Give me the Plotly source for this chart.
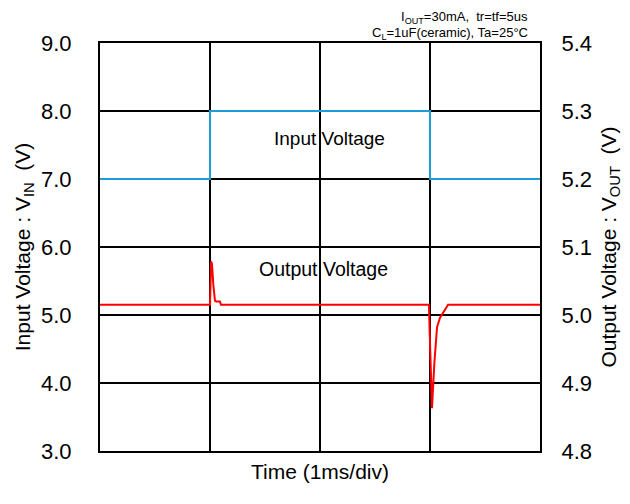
import plotly.graph_objects as go

# time in ms (1 ms/div, 4 divisions)
t_in = [0, 1.0, 1.0, 3.0, 3.0, 4.0]
v_in = [7.0, 7.0, 8.0, 8.0, 7.0, 7.0]

t_out = [0, 1.0, 1.01, 1.018, 1.03, 1.045, 1.055, 1.09, 1.10,
         2.99, 3.0, 3.018, 3.04, 3.064, 3.091, 3.118, 3.145, 3.164, 4.0]
v_out = [5.015, 5.015, 5.079, 5.075, 5.045, 5.021, 5.020, 5.020, 5.015,
         5.015, 4.96, 4.863, 4.93, 4.982, 4.996, 5.004, 5.010, 5.015, 5.015]

FONT = "Liberation Sans, Arial, sans-serif"

fig = go.Figure()
fig.add_trace(go.Scatter(x=t_in, y=v_in, mode="lines",
                         line=dict(color="#1E9CD7", width=2), yaxis="y"))
fig.add_trace(go.Scatter(x=t_out, y=v_out, mode="lines",
                         line=dict(color="#FF0000", width=2), yaxis="y2"))

fig.update_layout(
    width=630, height=504,
    margin=dict(l=92, r=98, t=35, b=61),
    paper_bgcolor="white", plot_bgcolor="white",
    showlegend=False,
    font=dict(family=FONT, color="black", size=21),
    xaxis=dict(range=[0, 4], dtick=1, showticklabels=False,
               showgrid=True, gridcolor="black", gridwidth=1.5,
               showline=True, linecolor="black", linewidth=2, mirror=True,
               zeroline=False,
               title=dict(text="Time (1ms/div)", font=dict(size=21), standoff=12)),
    yaxis=dict(range=[3, 9], dtick=1, tickformat=".1f", tickfont=dict(size=22),
               showgrid=True, gridcolor="black", gridwidth=1.5,
               showline=True, linecolor="black", linewidth=2,
               zeroline=False, ticklabelstandoff=22,
               title=dict(text="Input Voltage : V<sub>IN</sub>  (V)",
                          font=dict(size=21), standoff=5)),
    yaxis2=dict(range=[4.8, 5.4], dtick=0.1, tickformat=".1f", tickfont=dict(size=22),
                overlaying="y", side="right", showgrid=False,
                showline=True, linecolor="black", linewidth=2,
                zeroline=False, ticklabelstandoff=15,
                title=dict(text="Output Voltage : V<sub>OUT</sub>  (V)",
                           font=dict(size=21), standoff=10)),
)

fig.add_annotation(text="I<sub>OUT</sub>=30mA,  tr=tf=5us", xref="paper", yref="paper",
                   x=1, y=1.0858, xanchor="right", yanchor="top", xshift=-11,
                   showarrow=False, font=dict(size=13), borderpad=0)
fig.add_annotation(text="C<sub>L</sub>=1uF(ceramic), Ta=25°C", xref="paper", yref="paper",
                   x=1, y=1.047, xanchor="right", yanchor="top", xshift=-11,
                   showarrow=False, font=dict(size=13), borderpad=0)
fig.add_annotation(text="Input Voltage", x=2.09, y=7.60, xref="x", yref="y",
                   showarrow=False, font=dict(size=19))
fig.add_annotation(text="Output Voltage", x=2.03, y=5.68, xref="x", yref="y",
                   showarrow=False, font=dict(size=19.5))

fig.write_html("out.html")
